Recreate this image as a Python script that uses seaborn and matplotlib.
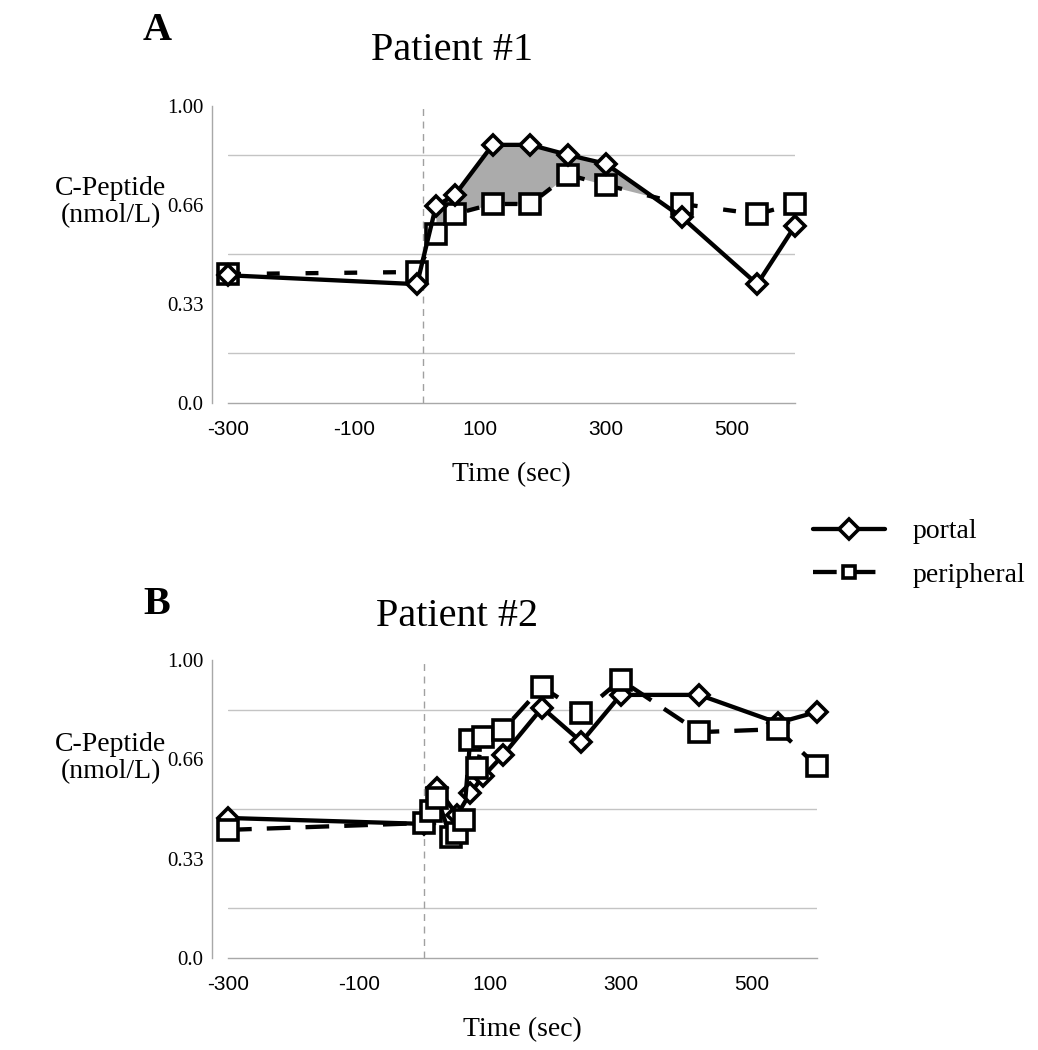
import matplotlib

matplotlib.use("Agg")
import matplotlib.pyplot as plt
import numpy as np
import pandas as pd
import seaborn as sns
from matplotlib.lines import Line2D
from matplotlib.ticker import FixedLocator

# ---- data ----
TIME_A = [-300, 0, 30, 60, 120, 180, 240, 300, 420, 540, 600]
PORTAL_A = [0.43, 0.40, 0.663, 0.70, 0.869, 0.869, 0.835, 0.805, 0.626, 0.40, 0.596]
PERIPH_A = [0.434, 0.441, 0.569, 0.636, 0.670, 0.670, 0.768, 0.734, 0.670, 0.636, 0.670]

PORTAL_TIME_B = [-300, 0, 20, 50, 70, 90, 120, 180, 240, 300, 420, 540, 600]
PORTAL_B = [0.47, 0.45, 0.57, 0.48, 0.553, 0.61, 0.68, 0.84, 0.725, 0.883, 0.883, 0.789, 0.826]
PERIPH_TIME_B = [-300, 0, 10, 20, 40, 50, 60, 70, 80, 90, 120, 180, 240, 300, 420, 540, 600]
PERIPH_B = [0.43, 0.453, 0.493, 0.537, 0.405, 0.42, 0.463, 0.731, 0.637, 0.741, 0.765,
            0.91, 0.822, 0.933, 0.758, 0.768, 0.644]

SHADE_RANGE_A = (30, 420)
INJECTION_A = 10
INJECTION_B = 0

X_TICKS = [-300, -100, 100, 300, 500]
Y_TICKS = [0.0, 1 / 3, 2 / 3, 1.0]
Y_TICK_LABELS = ["0.0", "0.33", "0.66", "1.00"]
Y_GRID = [1 / 6, 2 / 6, 3 / 6, 4 / 6, 5 / 6]

SERIF = "Liberation Serif"
SANS = "Liberation Sans"
LW = 3.1
MEW = 2.6
MS_SQUARE = 15
MS_DIAMOND = 10
GRID_COLOR = "#c4c4c4"
AXIS_COLOR = "#a8a8a8"


def style_axes(ax):
    ax.set_xlim(-300, 600)
    ax.set_ylim(0, 1.0)
    ax.set_xticks(X_TICKS)
    ax.set_xticklabels([str(t) for t in X_TICKS])
    ax.set_yticks(Y_TICKS)
    ax.set_yticklabels(Y_TICK_LABELS)
    ax.yaxis.set_minor_locator(FixedLocator(Y_GRID))
    ax.grid(False)
    ax.grid(True, which="minor", axis="y", color=GRID_COLOR, linewidth=1.0)
    ax.tick_params(axis="y", which="minor", length=0)
    ax.tick_params(axis="y", which="major", length=4, color=AXIS_COLOR, width=1,
                   labelsize=15, labelfontfamily=SERIF, labelcolor="black", pad=2)
    ax.tick_params(axis="x", which="major", length=5, color=AXIS_COLOR, width=1,
                   labelsize=15, labelfontfamily=SANS, labelcolor="black", pad=7)
    for side in ("top", "right"):
        ax.spines[side].set_visible(False)
    for side in ("left", "bottom"):
        ax.spines[side].set_color(AXIS_COLOR)
        ax.spines[side].set_linewidth(1.0)
    ax.spines["left"].set_position(("outward", 11.5))
    ax.set_xlabel("Time (sec)", fontsize=20, family=SERIF, color="black", labelpad=17)
    ax.set_ylabel("")


def draw_series(ax, x, y, marker, ms, dashes, z):
    ls = "-" if dashes is None else (0, dashes)
    sns.lineplot(x=x, y=y, ax=ax, estimator=None, sort=False, color="black",
                 linewidth=LW, linestyle=ls, marker=marker, markersize=ms,
                 markerfacecolor="white", markeredgecolor="black",
                 markeredgewidth=MEW, zorder=z, clip_on=False)


sns.set_theme(style="white")
plt.rcParams["font.family"] = [SERIF, "DejaVu Serif"]
plt.rcParams["text.color"] = "black"

fig = plt.figure(figsize=(10.38, 10.5), dpi=100)
ax_a = fig.add_axes([0.2197, 0.6162, 0.5462, 0.2829])
ax_b = fig.add_axes([0.2197, 0.0876, 0.5674, 0.2838])

# panel A
df_a = pd.DataFrame({"t": TIME_A, "portal": PORTAL_A, "periph": PERIPH_A})
t_fine = np.linspace(SHADE_RANGE_A[0], SHADE_RANGE_A[1], 400)
p_fine = np.interp(t_fine, df_a["t"], df_a["portal"])
q_fine = np.interp(t_fine, df_a["t"], df_a["periph"])
ax_a.fill_between(t_fine, q_fine, p_fine, where=p_fine >= q_fine, color="#ababab",
                  linewidth=0, zorder=2)
ax_a.axvline(INJECTION_A, color="#a0a0a0", linewidth=1.0, linestyle=(0, (5, 4)), zorder=1)
draw_series(ax_a, df_a["t"], df_a["periph"], "s", MS_SQUARE, (3.0, 6.0), 3)
draw_series(ax_a, df_a["t"], df_a["portal"], "D", MS_DIAMOND, None, 4)
style_axes(ax_a)

# panel B
ax_b.axvline(INJECTION_B, color="#a0a0a0", linewidth=1.0, linestyle=(0, (5, 4)), zorder=1)
draw_series(ax_b, PORTAL_TIME_B, PORTAL_B, "D", MS_DIAMOND, None, 3)
draw_series(ax_b, PERIPH_TIME_B, PERIPH_B, "s", MS_SQUARE, (5.5, 3.5), 4)
style_axes(ax_b)

# panel letters, titles, y labels
fig.text(157 / 1038, 1 - 30 / 1050, "A", fontsize=29, fontweight="bold", family=SERIF,
         ha="center", va="center")
fig.text(157 / 1038, 1 - 605 / 1050, "B", fontsize=29, fontweight="bold", family=SERIF,
         ha="center", va="center")
fig.text(452 / 1038, 1 - 50 / 1050, "Patient #1", fontsize=29, family=SERIF,
         ha="center", va="center")
fig.text(457 / 1038, 1 - 617 / 1050, "Patient #2", fontsize=29, family=SERIF,
         ha="center", va="center")
for yc in (202, 758):
    fig.text(111 / 1038, 1 - yc / 1050, "C-Peptide\n(nmol/L)", fontsize=20, family=SERIF,
             ha="center", va="center", multialignment="center", linespacing=1.15)

# legend
handles = [
    Line2D([], [], color="black", linewidth=LW, marker="D", markersize=MS_DIAMOND,
           markerfacecolor="white", markeredgecolor="black", markeredgewidth=MEW),
    Line2D([], [], color="black", linewidth=LW, linestyle=(0, (5.5, 3.5)), marker="s",
           markersize=8.5, markerfacecolor="white", markeredgecolor="black",
           markeredgewidth=MEW),
]
fig.legend(handles, ["portal", "peripheral"], loc="upper left",
           bbox_to_anchor=(813 / 1038, 1 - 519 / 1050), frameon=False,
           handlelength=2.6, handletextpad=1.0, labelspacing=0.65, borderpad=0,
           borderaxespad=0, numpoints=1, prop={"family": SERIF, "size": 20})

fig.savefig("out.png", dpi=100)
